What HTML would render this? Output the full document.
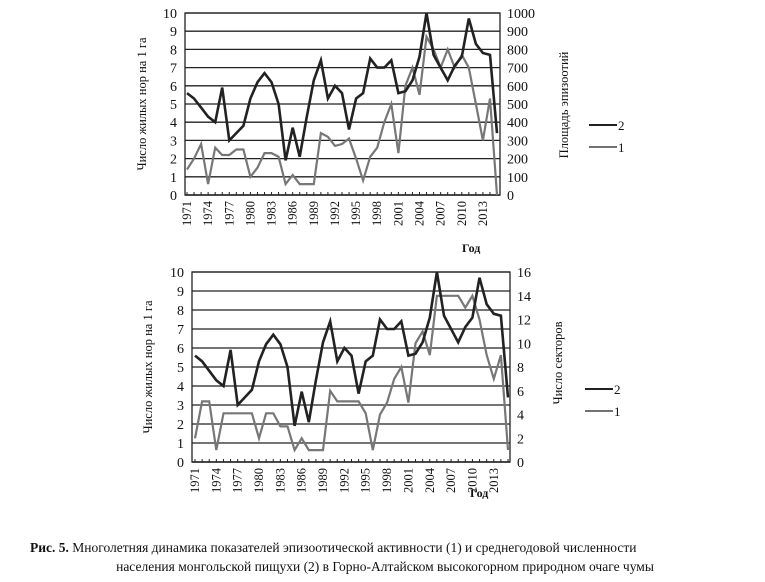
<!DOCTYPE html>
<html><head><meta charset="utf-8"><style>
html,body{margin:0;padding:0;background:#fff;}
svg{display:block;font-family:"Liberation Serif",serif;}
</style></head><body>
<svg id="s" width="765" height="582" viewBox="0 0 765 582" xmlns="http://www.w3.org/2000/svg">
<text x="30" y="552" font-size="13.5" font-weight="bold" fill="#111">Рис. 5.<tspan font-weight="normal"> Многолетняя динамика показателей эпизоотической активности (1) и среднегодовой численности</tspan></text>
<text x="385" y="571" font-size="13.5" text-anchor="middle" fill="#111">населения монгольской пищухи (2) в Горно-Алтайском высокогорном природном очаге чумы</text>
<text x="462" y="252" font-size="12" font-weight="bold" fill="#111">Год</text>
<text x="470" y="497" font-size="12" font-weight="bold" fill="#111">Год</text>
</svg>
<script>
const S=document.getElementById('s'),NS='http://www.w3.org/2000/svg';
function el(t,a,txt){const e=document.createElementNS(NS,t);for(const k in a)e.setAttribute(k,a[k]);if(txt!==undefined)e.textContent=txt;S.appendChild(e);return e;}
const pop=[5.6,5.3,4.8,4.3,4.0,5.9,3.0,3.4,3.8,5.3,6.2,6.7,6.2,5.0,1.9,3.7,2.1,4.3,6.3,7.4,5.3,6.0,5.6,3.6,5.3,5.6,7.5,7.0,7.0,7.4,5.6,5.7,6.3,7.6,10.0,7.7,7.0,6.3,7.1,7.6,9.7,8.3,7.8,7.7,3.4];
const a1=[140,200,280,60,260,220,220,250,250,100,150,230,230,210,60,110,60,60,60,340,320,270,280,310,200,80,210,260,400,500,230,600,700,550,870,800,700,800,700,770,700,500,300,530,0];
const b1=[2,5.1,5.1,1,4.1,4.1,4.1,4.1,4.1,2,4.1,4.1,3,3,1,2,1,1,1,6,5.1,5.1,5.1,5.1,4.1,1,4,5,7,8,5,10,11,9,14,14,14,14,13,14,12,9,7,9,1];
function chart(o){
 const {L,R,T,B,x0,x1}=o;
 for(let i=0;i<=10;i++){const y=B-(B-T)*i/10;
  el('line',{x1:L,x2:R,y1:y,y2:y,stroke:'#222','stroke-width':i==0?1.5:1.3});
  el('text',{x:L-8,y:y+5,'font-size':14,'text-anchor':'end',fill:'#111'},i);}
 el('rect',{x:L,y:T,width:R-L,height:B-T,fill:'none',stroke:'#222','stroke-width':1.3});
 o.rlab.forEach((v,i)=>{const y=B-(B-T)*i/(o.rlab.length-1);el('text',{x:R+7,y:y+5,'font-size':14,fill:'#111'},v);});
 const st=(x1-x0)/44;
 for(let i=0;i<45;i++){const x=x0+i*st;el('line',{x1:x,x2:x,y1:B,y2:B-3,stroke:'#222'});
  if(i%3==0){el('text',{transform:`translate(${x+4},${B+6}) rotate(-90)`,'font-size':12.5,'text-anchor':'end',fill:'#111'},1971+i);}}
 const p=(arr,mx)=>arr.map((v,i)=>`${(x0+i*st).toFixed(1)},${(B-(B-T)*v/mx).toFixed(1)}`).join(' ');
 el('polyline',{points:p(o.s1,o.m1),fill:'none',stroke:'#777','stroke-width':2.2});
 el('polyline',{points:p(pop,10),fill:'none',stroke:'#222','stroke-width':2.6});
 el('text',{transform:`translate(${o.ly},${(T+B)/2}) rotate(-90)`,'font-size':12.5,'text-anchor':'middle',fill:'#111'},'Число жилых нор на 1 га');
 el('text',{transform:`translate(${o.ry},${o.ryy}) rotate(-90)`,'font-size':12.5,'text-anchor':'middle',fill:'#111'},o.rt);
 el('line',{x1:o.lgx,x2:o.lgx+28,y1:o.lgy,y2:o.lgy,stroke:'#222','stroke-width':2});
 el('text',{x:o.lgx+29,y:o.lgy+5,'font-size':13,fill:'#111'},'2');
 el('line',{x1:o.lgx,x2:o.lgx+28,y1:o.lgy+22,y2:o.lgy+22,stroke:'#444','stroke-width':1.6});
 el('text',{x:o.lgx+29,y:o.lgy+27,'font-size':13,fill:'#111'},'1');
}
chart({L:185,R:500,T:13,B:195,x0:187,x1:497,rlab:[0,100,200,300,400,500,600,700,800,900,1000],s1:a1,m1:1000,ly:146,ry:568,ryy:105,rt:'Площадь эпизоотий',lgx:589,lgy:125});
chart({L:192,R:510,T:272,B:462,x0:195,x1:508,rlab:[0,2,4,6,8,10,12,14,16],s1:b1,m1:16,ly:152,ry:562,ryy:363,rt:'Число секторов',lgx:585,lgy:389});
</script>
</body></html>
